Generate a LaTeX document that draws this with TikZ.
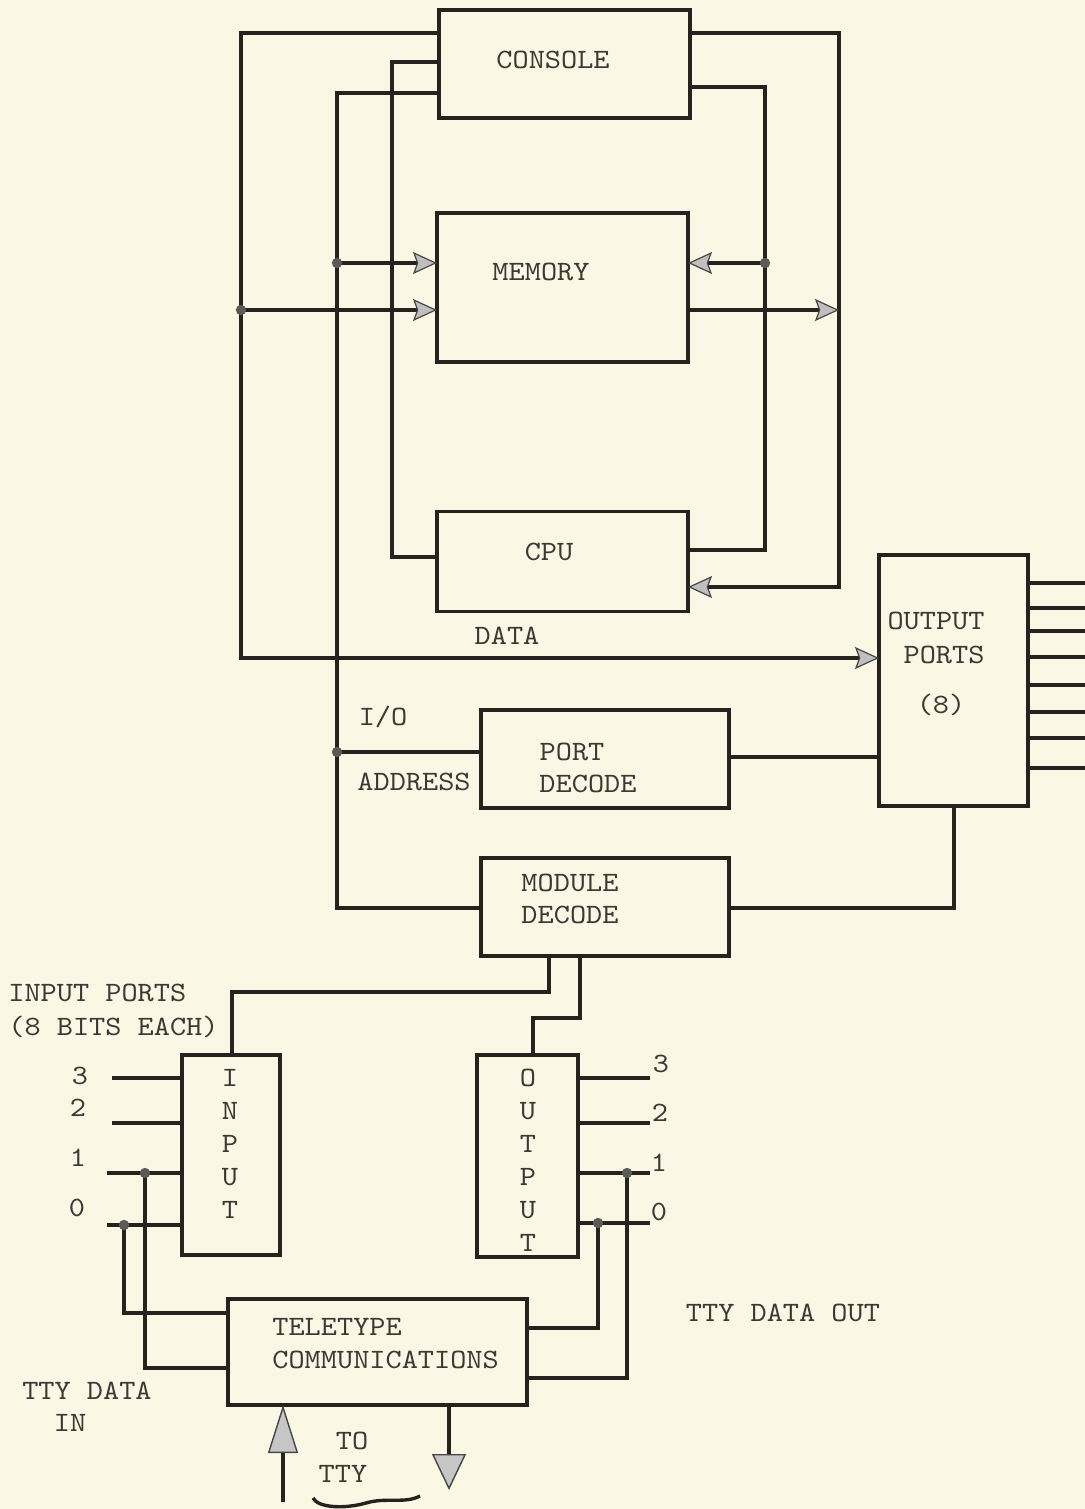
\documentclass[tikz,border=0pt]{standalone}
\usepackage{fontspec}
\newfontfamily\twfont{lmmono10-regular}[Extension=.otf, FakeStretch=1.1]
\usetikzlibrary{arrows.meta}
\definecolor{paper}{RGB}{250,247,229}
\definecolor{ink}{RGB}{38,35,30}
\newcommand\lblfont{\twfont\fontsize{14pt}{16pt}\selectfont}
\tikzset{
  wire/.style={draw=ink, line width=1.7pt, line join=miter},
  box/.style={draw=ink, line width=1.7pt, inner sep=0pt, outer sep=0pt, rectangle},
  lbl/.style={font=\lblfont, text=ink!90, inner sep=0pt, text height=8.5pt, text depth=0pt},
  jdot/.style={fill=ink!75},
  gtip/.tip={Stealth[length=12pt,width=11pt,inset=2pt,fill=gray!50,color=gray!55!black,line width=0.6pt]},
  uptip/.tip={Triangle[length=24pt,width=15pt,fill=gray!45,color=gray!55!black,line width=0.7pt]},
  dntip/.tip={Triangle[length=18pt,width=17pt,fill=gray!45,color=gray!55!black,line width=0.7pt]},
}
\begin{document}
\begin{tikzpicture}[x=0.5pt,y=-0.5pt]
\useasboundingbox (0,0) rectangle (1085,1509);
\fill[paper] (0,0) rectangle (1085,1509);

% boxes
\node[box, minimum width=125.5pt, minimum height=54pt]   (console)  at (564.5,64) {};
\node[box, minimum width=125.5pt, minimum height=74.5pt] (memory)   at (562.5,287.5) {};
\node[box, minimum width=125.5pt, minimum height=50pt]   (cpu)      at (562.5,561.5) {};
\node[box, minimum width=74.5pt,  minimum height=125.5pt] (outports) at (953.5,680.5) {};
\node[box, minimum width=124pt,   minimum height=49pt]   (portdec)  at (605,759) {};
\node[box, minimum width=124pt,   minimum height=49pt]   (moddec)   at (605,907) {};
\node[box, minimum width=49pt,    minimum height=100pt]  (input)    at (231,1155) {};
\node[box, minimum width=50.5pt,  minimum height=101pt]  (output)   at (527.5,1156) {};
\node[box, minimum width=149.5pt, minimum height=53pt]   (tty)      at (377.5,1352) {};

% coordinates
\coordinate (d0) at (241,33);  \coordinate (d1) at (241,658); \coordinate (dj) at (241,310);
\coordinate (b0) at (392,62);  \coordinate (b1) at (392,557);
\coordinate (a0) at (337,93);  \coordinate (aj1) at (337,263); \coordinate (aj2) at (337,752); \coordinate (a1) at (337,908);
\coordinate (r0) at (839,33);  \coordinate (r1) at (839,587); \coordinate (rj) at (839,310);
\coordinate (s0) at (765,87);  \coordinate (s1) at (765,550); \coordinate (sj) at (765,263);
\coordinate (pd) at (800,757);
\coordinate (q) at (954,908);
\coordinate (m1a) at (549,992); \coordinate (m1b) at (232,992);
\coordinate (m2a) at (580,1018); \coordinate (m2b) at (533,1018);
\coordinate (i3) at (112,1078); \coordinate (i2) at (112,1123); \coordinate (i1) at (107,1173); \coordinate (i0) at (107,1225);
\coordinate (ij1) at (145,1173); \coordinate (ij0) at (124,1225);
\coordinate (ib1) at (145,1368); \coordinate (ib0) at (124,1313);
\coordinate (o3) at (650,1078); \coordinate (o2) at (650,1123); \coordinate (o1) at (650,1173); \coordinate (o0) at (650,1223);
\coordinate (oj1) at (627,1173); \coordinate (oj0) at (598,1223);
\coordinate (ob1) at (627,1378); \coordinate (ob0) at (598,1328);
\coordinate (tu) at (283,1502); \coordinate (td) at (449,1490);

% bus wiring
\draw[wire,-gtip] (console.west|-d0) -- (d0) -- (d1) -- (outports.west|-d1);
\draw[wire,-gtip] (dj) -- (memory.west|-dj);
\draw[wire] (console.west|-b0) -- (b0) -- (b1) -- (cpu.west|-b1);
\draw[wire] (console.west|-a0) -- (a0) -- (a1) -- (moddec.west|-a1);
\draw[wire,-gtip] (aj1) -- (memory.west|-aj1);
\draw[wire] (aj2) -- (portdec.west|-aj2);
\draw[wire,-gtip] (console.east|-r0) -- (r0) -- (r1) -- (cpu.east|-r1);
\draw[wire,-gtip] (memory.east|-rj) -- (rj);
\draw[wire] (console.east|-s0) -- (s0) -- (s1) -- (cpu.east|-s1);
\draw[wire,-gtip] (sj) -- (memory.east|-sj);
\draw[wire] (portdec.east|-pd) -- (outports.west|-pd);
\draw[wire] (moddec.east|-q) -- (q) -- (outports.south-|q);
\draw[wire] (moddec.south-|m1a) -- (m1a) -- (m1b) -- (input.north-|m1b);
\draw[wire] (moddec.south-|m2a) -- (m2a) -- (m2b) -- (output.north-|m2b);

% output port lines
\foreach \y [count=\k] in {583,608,631,657,685,712,738,768}{
  \coordinate (op\k) at (1085,\y);
  \draw[wire] (outports.east|-op\k) -- (op\k);
}

% input port lines
\draw[wire] (i3) -- (input.west|-i3);
\draw[wire] (i2) -- (input.west|-i2);
\draw[wire] (i1) -- (input.west|-i1);
\draw[wire] (i0) -- (input.west|-i0);
\draw[wire] (ij1) -- (ib1) -- (tty.west|-ib1);
\draw[wire] (ij0) -- (ib0) -- (tty.west|-ib0);

% output port lines (lower)
\draw[wire] (output.east|-o3) -- (o3);
\draw[wire] (output.east|-o2) -- (o2);
\draw[wire] (output.east|-o1) -- (o1);
\draw[wire] (output.east|-o0) -- (o0);
\draw[wire] (oj1) -- (ob1) -- (tty.east|-ob1);
\draw[wire] (oj0) -- (ob0) -- (tty.east|-ob0);

% teletype arrows
\draw[wire,-uptip] (tu) -- (tty.south-|tu);
\draw[wire,-dntip] (tty.south-|td) -- (td);
\draw[wire] (313,1498) .. controls (318,1508) and (345,1509) .. (366,1503) .. controls (386,1497) and (405,1504) .. (420,1496);

% junction dots
\foreach \p in {dj,aj1,aj2,sj,ij1,ij0,oj1,oj0}{ \fill[jdot] (\p) circle (2.6pt); }

% labels
\node[lbl] (tconsole) at (553,60) {CONSOLE};
\node[lbl] (tmemory) at (541,272) {MEMORY};
\node[lbl] (tcpu) at (549,552) {CPU};
\node[lbl] (tdata) at (507,636) {DATA};
\node[lbl] (tout1) at (936,621) {OUTPUT};
\node[lbl] (tout2) at (944,655) {PORTS};
\node[lbl] (tout3) at (941,705) {(8)};
\node[lbl] (tio) at (383,717) {I/O};
\node[lbl] (taddr) at (414,782) {ADDRESS};
\node[lbl] (tport) at (572,752) {PORT};
\node[lbl] (tdec1) at (588,784) {DECODE};
\node[lbl] (tmod) at (570,883) {MODULE};
\node[lbl] (tdec2) at (570,915) {DECODE};
\node[lbl,anchor=west] (tinp) at (8,993) {INPUT PORTS};
\node[lbl,anchor=west] (tbits) at (8,1027) {(8 BITS EACH)};
\node[lbl] (n3) at (80,1076) {3};
\node[lbl] (n2) at (78,1108) {2};
\node[lbl] (n1) at (78,1158) {1};
\node[lbl] (n0) at (77,1208) {0};
\foreach \c [count=\k] in {I,N,P,U,T}{
  \node[lbl] (inl\k) at (230,{1078+33*(\k-1)}) {\c};
}
\foreach \c [count=\k] in {O,U,T,P,U,T}{
  \node[lbl] (outl\k) at (528,{1078+33*(\k-1)}) {\c};
}
\node[lbl] (m3) at (661,1064) {3};
\node[lbl] (m2) at (660,1113) {2};
\node[lbl] (m1) at (659,1163) {1};
\node[lbl] (m0) at (659,1212) {0};
\node[lbl,anchor=west] (ttele) at (272,1327) {TELETYPE};
\node[lbl,anchor=west] (tcomm) at (272,1360) {COMMUNICATIONS};
\node[lbl] (tout) at (783,1313) {TTY DATA OUT};
\node[lbl] (tin1) at (87,1391) {TTY DATA};
\node[lbl] (tin2) at (70,1423) {IN};
\node[lbl] (tto1) at (352,1441) {TO};
\node[lbl] (tto2) at (343,1474) {TTY};
\end{tikzpicture}
\end{document}
